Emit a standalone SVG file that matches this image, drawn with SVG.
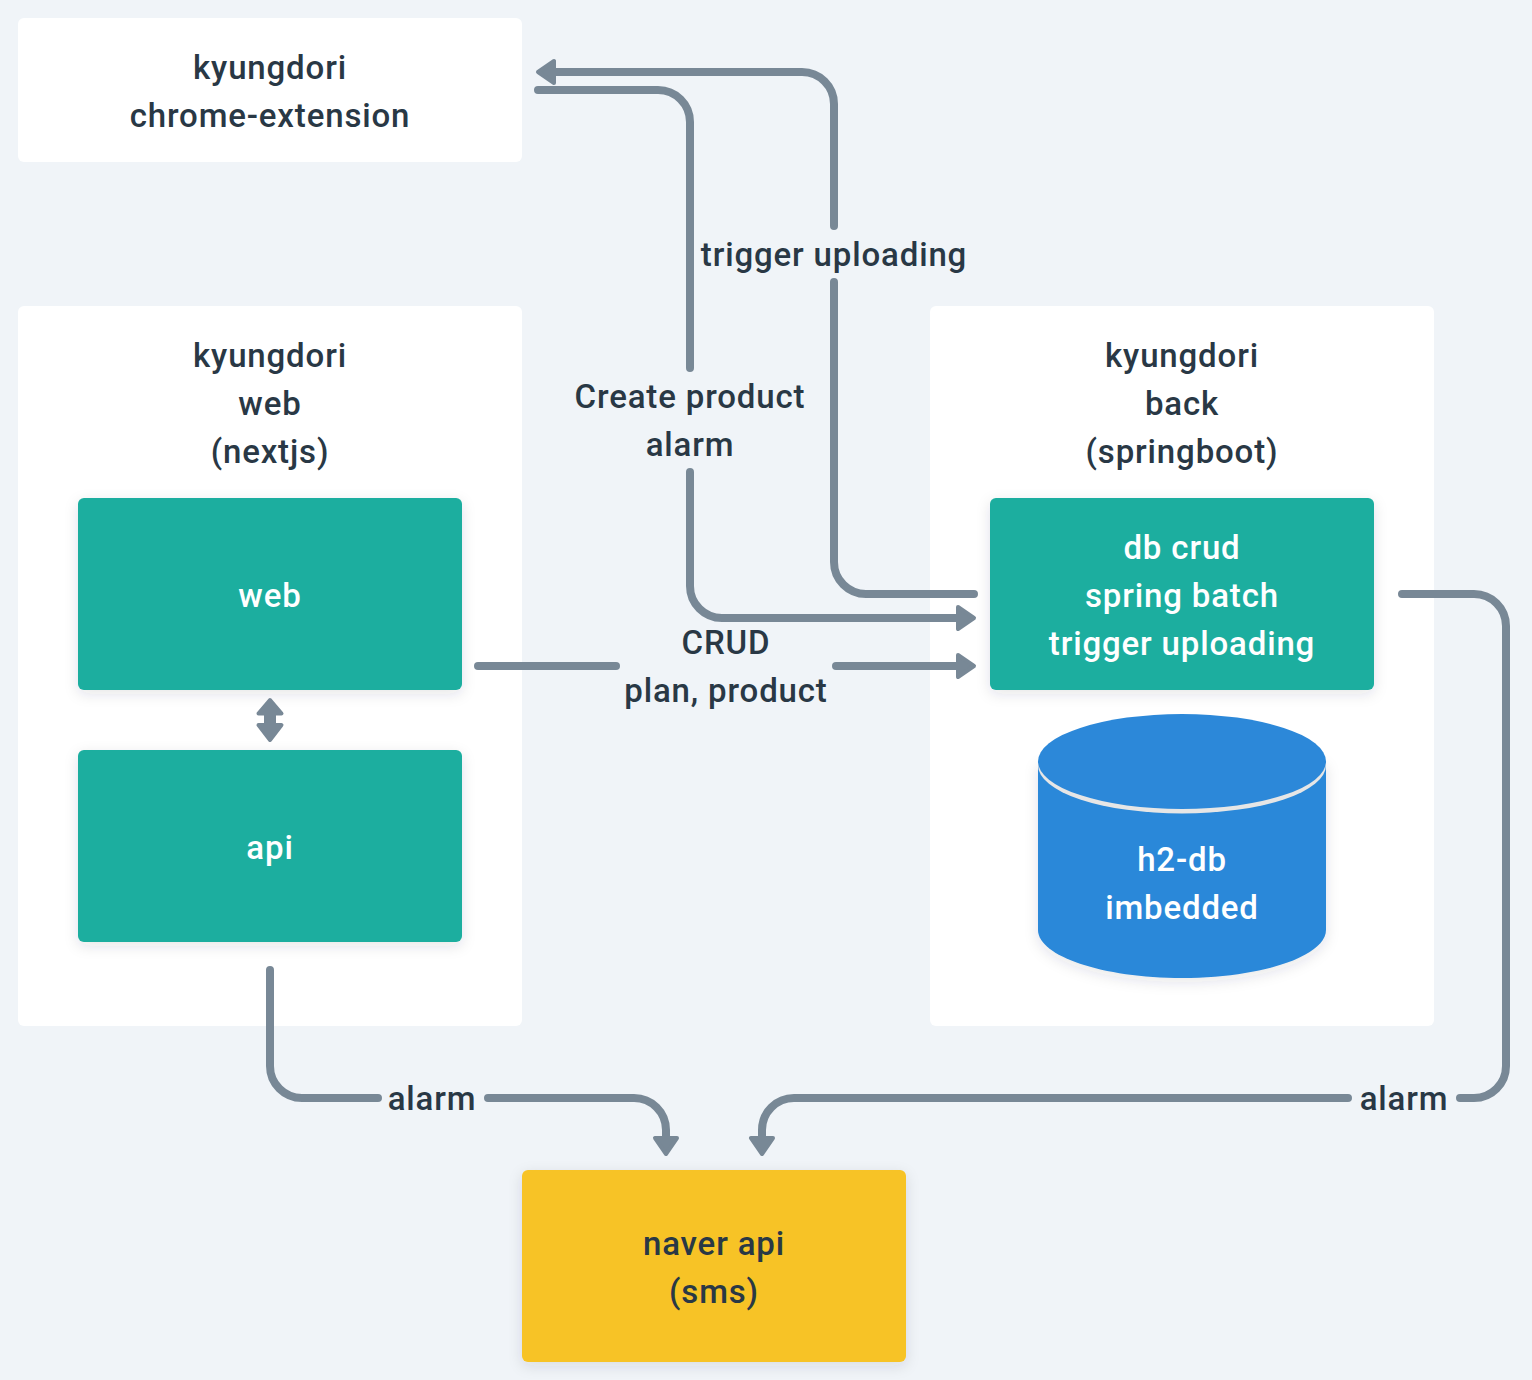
<svg xmlns="http://www.w3.org/2000/svg" width="1532" height="1380" viewBox="0 0 1532 1380">
<style>
text{font-family:"Roboto","Noto Sans",sans-serif;font-size:33px;font-weight:500;letter-spacing:.85px;text-anchor:middle;fill:#293845}
text.w{fill:#fff}
.card{fill:#fff}
.shadow{filter:url(#sh)}
.teal{fill:#1AAE9F}
.conn{fill:none;stroke:#788896;stroke-width:8;stroke-linecap:round}
.end{marker-end:url(#ah)}
</style>
<defs>
<filter id="sh" x="-10%" y="-10%" width="120%" height="125%"><feDropShadow dx="0" dy="4" stdDeviation="7" flood-color="#293845" flood-opacity="0.12"/></filter>
<marker id="ah" markerUnits="userSpaceOnUse" markerWidth="30" markerHeight="34" refX="2" refY="15" orient="auto"><path d="M2 4 L18 15 L2 26Z" fill="#788896" stroke="#788896" stroke-width="4" stroke-linejoin="round"/></marker>
</defs>
<rect width="1532" height="1380" fill="#F0F4F8"/>
<g id="chrome-extension"><rect class="card" x="18" y="18" width="504" height="144" rx="6"/><text x="270" y="79">kyungdori</text><text x="270" y="127">chrome-extension</text></g>
<g id="web-container"><rect class="card" x="18" y="306" width="504" height="720" rx="6"/><text x="270" y="367">kyungdori</text><text x="270" y="415">web</text><text x="270" y="463">(nextjs)</text></g>
<g id="back-container"><rect class="card" x="930" y="306" width="504" height="720" rx="6"/><text x="1182" y="367">kyungdori</text><text x="1182" y="415">back</text><text x="1182" y="463">(springboot)</text></g>
<g id="web"><rect class="teal shadow" x="78" y="498" width="384" height="192" rx="6"/><text class="w" x="270" y="607">web</text></g>
<g id="api"><rect class="teal shadow" x="78" y="750" width="384" height="192" rx="6"/><text class="w" x="270" y="859">api</text></g>
<g id="crud"><rect class="teal shadow" x="990" y="498" width="384" height="192" rx="6"/><text class="w" x="1182" y="559">db crud</text><text class="w" x="1182" y="607">spring batch</text><text class="w" x="1182" y="655">trigger uploading</text></g>
<g id="h2-db"><path class="shadow" d="M1038 762 V930 C1038 956 1102 978 1182 978 C1262 978 1326 956 1326 930 V762Z" fill="#2C88D9"/><ellipse cx="1182" cy="765.500" rx="144" ry="48" fill="#E6E6E6"/><ellipse cx="1182" cy="761.500" rx="144" ry="47.500" fill="#2C88D9"/><text class="w" x="1182" y="871">h2-db</text><text class="w" x="1182" y="919">imbedded</text></g>
<g id="naver-api"><rect class="shadow" x="522" y="1170" width="384" height="192" rx="6" fill="#F7C325"/><text x="714" y="1255">naver api</text><text x="714" y="1303">(sms)</text></g>
<g id="connectors">
<path class="conn" d="M974 594 H866 A32 32 0 0 1 834 562 V282"/>
<path class="conn end" d="M834 226 V104 A32 32 0 0 0 802 72 H554"/>
<path class="conn" d="M538 90 H658 A32 32 0 0 1 690 122 V368"/>
<path class="conn end" d="M690 472 V586 A32 32 0 0 0 722 618 H958"/>
<path class="conn" d="M478 666 H616"/>
<path class="conn end" d="M836 666 H958"/>
<path class="conn" d="M270 970 V1066 A32 32 0 0 0 302 1098 H378"/>
<path class="conn end" d="M488 1098 H634 A32 32 0 0 1 666 1130 V1138"/>
<path class="conn" d="M1402 594 H1474 A32 32 0 0 1 1506 626 V1066 A32 32 0 0 1 1474 1098 H1460"/>
<path class="conn end" d="M1348 1098 H794 A32 32 0 0 0 762 1130 V1138"/>
<path d="M270 700 L281.500 713.500 H258.500Z M270 740 L281.500 725 H258.500Z M266 713 H274 V725 H266Z" fill="#788896" stroke="#788896" stroke-width="4" stroke-linejoin="round"/>
</g>
<g id="labels">
<text x="834" y="266">trigger uploading</text>
<text x="690" y="408">Create product</text>
<text x="690" y="456">alarm</text>
<text x="726" y="654">CRUD</text>
<text x="726" y="702">plan, product</text>
<text x="432" y="1110">alarm</text>
<text x="1404" y="1110">alarm</text>
</g>
</svg>
